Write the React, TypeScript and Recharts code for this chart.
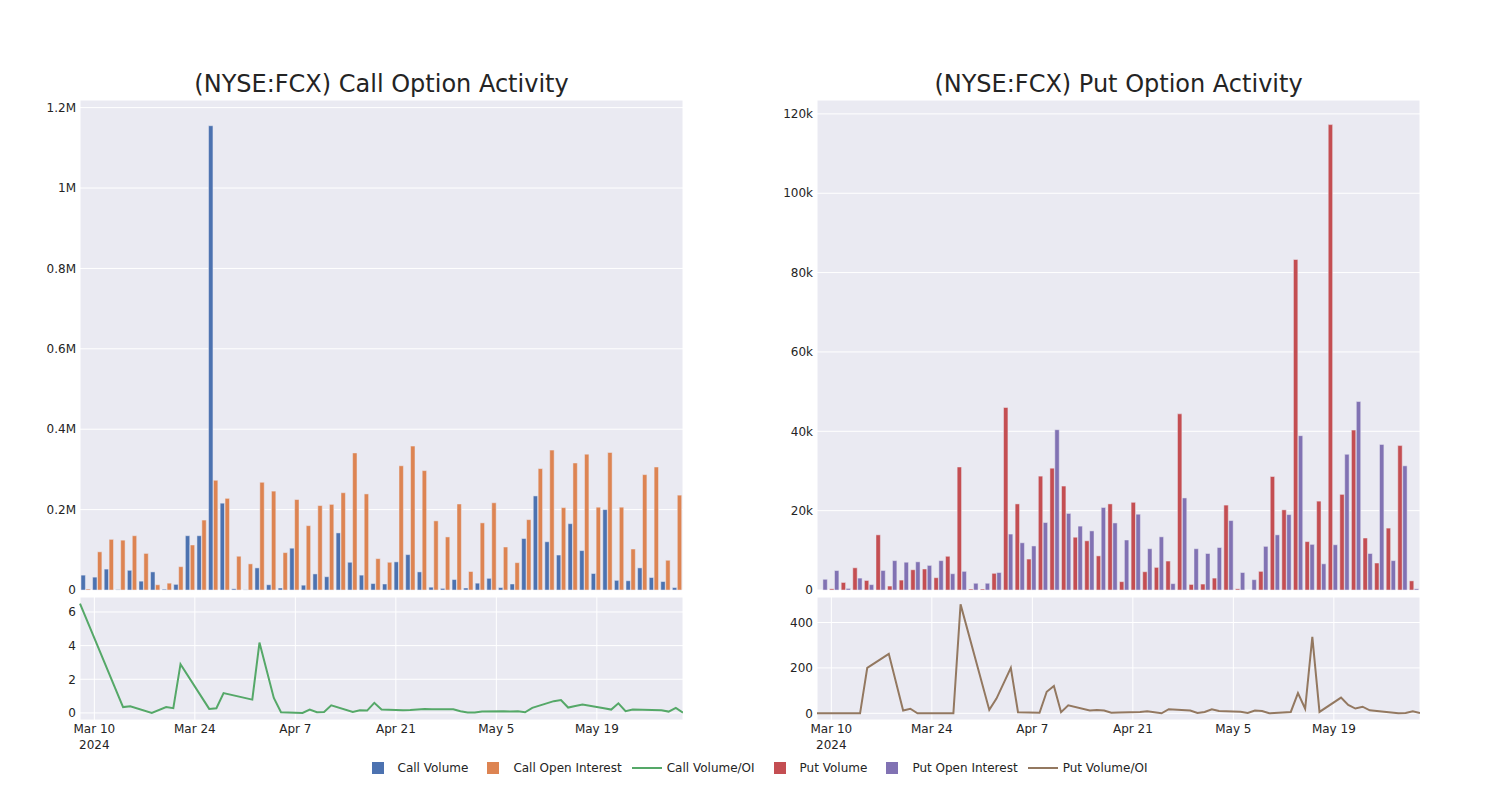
import React from 'react';
import { BarChart, Bar, LineChart, Line, XAxis, YAxis, CartesianGrid } from 'recharts';

// trading days in the data set (Apr 24 not reported)
const DATES = [
  '2024-03-08', '2024-03-14', '2024-03-15', '2024-03-18', '2024-03-20', '2024-03-21', '2024-03-22', '2024-03-26', '2024-03-27', '2024-03-28',
  '2024-04-01', '2024-04-02', '2024-04-04', '2024-04-05', '2024-04-08', '2024-04-09', '2024-04-10', '2024-04-11', '2024-04-12', '2024-04-15',
  '2024-04-16', '2024-04-17', '2024-04-18', '2024-04-19', '2024-04-22', '2024-04-23', '2024-04-25', '2024-04-26', '2024-04-29', '2024-04-30',
  '2024-05-01', '2024-05-02', '2024-05-03', '2024-05-06', '2024-05-07', '2024-05-08', '2024-05-09', '2024-05-10', '2024-05-13', '2024-05-14',
  '2024-05-15', '2024-05-16', '2024-05-17', '2024-05-20', '2024-05-21', '2024-05-22', '2024-05-23', '2024-05-24', '2024-05-28', '2024-05-29',
  '2024-05-30', '2024-05-31',
];

const CALL_VOLUME = [
  37000, 32000, 52000, 1000, 49000, 22000, 45000, 2000, 14000, 135000,
  135000, 1155000, 216000, 3000, 500, 55000, 13000, 5000, 104000, 12000,
  40000, 33000, 142000, 69000, 37000, 16000, 15000, 70000, 88000, 45000,
  7000, 4000, 26000, 5000, 17000, 29000, 6000, 15000, 128000, 234000,
  120000, 87000, 165000, 98000, 41000, 200000, 24000, 23000, 55000, 31000,
  21000, 6000,
];

const CALL_OI = [
  2500, 95000, 126000, 124000, 135000, 91000, 13000, 17000, 58000, 112000,
  174000, 273000, 228000, 84000, 65000, 268000, 246000, 93000, 225000, 160000,
  210000, 213000, 242000, 341000, 239000, 78000, 69000, 309000, 358000, 297000,
  172000, 132000, 214000, 46000, 167000, 217000, 107000, 68000, 175000, 302000,
  348000, 205000, 316000, 338000, 206000, 342000, 206000, 102000, 287000, 306000,
  74000, 236000,
];

const CALL_RATIO = [
  6.5, 0.35, 0.4, 0, 0.35, 0.28, 2.9, 0.24, 0.28, 1.18,
  0.79, 4.18, 0.89, 0.04, 0, 0.2, 0.04, 0.06, 0.45, 0.06,
  0.16, 0.14, 0.6, 0.2, 0.16, 0.18, 0.24, 0.22, 0.22, 0.1,
  0.02, 0.02, 0.08, 0.1, 0.08, 0.1, 0.04, 0.3, 0.7, 0.77,
  0.32, 0.41, 0.5, 0.28, 0.2, 0.57, 0.1, 0.2, 0.16, 0.08,
  0.3, 0.02,
];

const PUT_VOLUME = [
  0, 300, 1900, 5600, 2400, 13900, 1000, 2500, 5100, 5300,
  3100, 8500, 31000, 250, 250, 4200, 46000, 21700, 7800, 28700,
  30700, 26200, 13300, 12400, 8600, 21700, 2100, 22100, 4600, 5700,
  7300, 44400, 1400, 1500, 3000, 21400, 300, 0, 4700, 28600,
  20200, 83300, 12200, 22400, 117300, 24100, 40300, 13100, 6800, 15600,
  36400, 2300,
];

const PUT_OI = [
  2700, 4900, 400, 3000, 1350, 4900, 7400, 7000, 7100, 6200,
  7400, 4100, 4700, 1700, 1700, 4400, 14100, 11900, 11100, 17000,
  40400, 19300, 16100, 14900, 20800, 16900, 12600, 19100, 10400, 13400,
  1600, 23200, 10400, 9200, 10700, 17500, 4400, 2600, 11000, 13900,
  19000, 38900, 11500, 6600, 11400, 34200, 47500, 9200, 36700, 7400,
  31300, 300,
];

const PUT_RATIO = [
  0, 0, 200, 262, 12, 20, 0, 0, 0, 480,
  15, 65, 200, 5, 2, 95, 120, 5, 35, 12,
  15, 12, 3, 4, 6, 9, 0, 18, 12, 1.5,
  6, 18, 10, 7, 1.5, 12, 10, 0, 6, 89,
  20, 337, 6, 69, 37, 21, 29, 13, 0, 1.5,
  9, 1.5,
];

const DATE_TICKS = ['2024-03-10', '2024-03-24', '2024-04-07', '2024-04-21', '2024-05-05', '2024-05-19'];
const CALL_TICKS = [0, 200000, 400000, 600000, 800000, 1000000, 1200000];
const PUT_TICKS = [0, 20000, 40000, 60000, 80000, 100000, 120000];
const CALL_RATIO_TICKS = [0, 2, 4, 6];
const PUT_RATIO_TICKS = [0, 200, 400];
const MONTHS = ['Jan', 'Feb', 'Mar', 'Apr', 'May', 'Jun', 'Jul', 'Aug', 'Sep', 'Oct', 'Nov', 'Dec'];

const FONT = '"DejaVu Sans", sans-serif';
const TEXT = '#242424';
const BG = '#EAEAF2';

const PLOT_W = 603;
const AXIS_W = 60;
const BAR_TOP = 100;
const BAR_H = 490;
const LINE_TOP = 597;
const LINE_H = 123;

const rows = DATES.map((date, i) => ({
  date,
  t: Date.parse(date),
  callVolume: CALL_VOLUME[i],
  callOI: CALL_OI[i],
  callRatio: CALL_RATIO[i],
  putVolume: PUT_VOLUME[i],
  putOI: PUT_OI[i],
  putRatio: PUT_RATIO[i],
}));

const gridCats = DATES.filter((_, i) => i % 10 === 0);
const timeTicks = DATE_TICKS.map((d) => Date.parse(d));
const timeDomain = [Date.parse('2024-03-08'), Date.parse('2024-05-31')];

const fmtM = (v: number) => (v === 0 ? '0' : `${v / 1e6}M`);
const fmtK = (v: number) => (v === 0 ? '0' : `${v / 1000}k`);

function DateTick(props: any) {
  const { x, y, payload, index } = props;
  const d = new Date(payload.value);
  const label = `${MONTHS[d.getUTCMonth()]} ${d.getUTCDate()}`;
  return (
    <text x={x} y={y} textAnchor="middle" fontSize={12} fill={TEXT} fontFamily={FONT}>
      <tspan x={x} dy={11}>{label}</tspan>
      {index === 0 && <tspan x={x} dy={16}>2024</tspan>}
    </text>
  );
}

const tickStyle = { fontSize: 12, fill: TEXT, fontFamily: FONT };

function Panel(props: {
  left: number;
  title: string;
  volKey: string;
  oiKey: string;
  ratioKey: string;
  volColor: string;
  oiColor: string;
  ratioColor: string;
  barTicks: number[];
  barMax: number;
  fmt: (v: number) => string;
  ratioTicks: number[];
  ratioDomain: number[];
}) {
  const p = props;
  return (
    <>
      <div
        style={{
          position: 'absolute', left: p.left, top: 70, width: PLOT_W, textAlign: 'center',
          fontFamily: FONT, fontSize: 24, lineHeight: '28px', color: TEXT,
        }}
      >
        {p.title}
      </div>
      <div style={{ position: 'absolute', left: p.left - AXIS_W, top: BAR_TOP }}>
        <BarChart
          width={AXIS_W + PLOT_W}
          height={BAR_H + 10}
          data={rows}
          margin={{ top: 0, right: 0, bottom: 10, left: 0 }}
          barSize={4.4}
          barGap={0.5}
        >
          <CartesianGrid stroke="#ffffff" strokeWidth={1} fill={BG} />
          <XAxis dataKey="date" ticks={gridCats} interval={0} tick={false} axisLine={false} tickLine={false} height={0} />
          <YAxis
            width={AXIS_W}
            type="number"
            domain={[0, p.barMax]}
            ticks={p.barTicks}
            tickFormatter={p.fmt}
            axisLine={false}
            tickLine={false}
            tickSize={0}
            tickMargin={4}
            tick={tickStyle}
          />
          <Bar dataKey={p.volKey} fill={p.volColor} stroke={BG} strokeWidth={0.5} isAnimationActive={false} />
          <Bar dataKey={p.oiKey} fill={p.oiColor} stroke={BG} strokeWidth={0.5} isAnimationActive={false} />
        </BarChart>
      </div>
      <div style={{ position: 'absolute', left: p.left - AXIS_W, top: LINE_TOP }}>
        <LineChart
          width={AXIS_W + PLOT_W}
          height={LINE_H + 40}
          data={rows}
          margin={{ top: 0, right: 0, bottom: 0, left: 0 }}
        >
          <CartesianGrid stroke="#ffffff" strokeWidth={1} fill={BG} />
          <XAxis
            dataKey="t"
            type="number"
            domain={timeDomain}
            ticks={timeTicks}
            interval={0}
            tick={<DateTick />}
            axisLine={false}
            tickLine={false}
            tickSize={0}
            height={40}
          />
          <YAxis
            width={AXIS_W}
            type="number"
            domain={p.ratioDomain}
            ticks={p.ratioTicks}
            allowDataOverflow
            axisLine={false}
            tickLine={false}
            tickSize={0}
            tickMargin={4}
            tick={tickStyle}
          />
          <Line
            dataKey={p.ratioKey}
            stroke={p.ratioColor}
            strokeWidth={2}
            dot={false}
            type="linear"
            isAnimationActive={false}
          />
        </LineChart>
      </div>
    </>
  );
}

const LEGEND = [
  { label: 'Call Volume', color: '#4C72B0', kind: 'bar' },
  { label: 'Call Open Interest', color: '#DD8452', kind: 'bar' },
  { label: 'Call Volume/OI', color: '#55A868', kind: 'line' },
  { label: 'Put Volume', color: '#C44E52', kind: 'bar' },
  { label: 'Put Open Interest', color: '#8172B3', kind: 'bar' },
  { label: 'Put Volume/OI', color: '#937860', kind: 'line' },
];

function Legend() {
  return (
    <div
      style={{
        position: 'absolute', left: 0, top: 760, width: 1500, display: 'flex', justifyContent: 'center',
        fontFamily: FONT, fontSize: 12, color: TEXT, paddingLeft: 10, boxSizing: 'border-box',
      }}
    >
      {LEGEND.map((it) => (
        <div key={it.label} style={{ display: 'flex', alignItems: 'center', height: 16, marginRight: 5 }}>
          <div style={{ width: 40, height: 16, position: 'relative' }}>
            {it.kind === 'bar' ? (
              <div style={{ position: 'absolute', left: 14, top: 2, width: 12, height: 12, background: it.color }} />
            ) : (
              <div style={{ position: 'absolute', left: 5, top: 7, width: 30, height: 2, background: it.color }} />
            )}
          </div>
          <span>{it.label}</span>
        </div>
      ))}
    </div>
  );
}

export default function App() {
  return (
    <div style={{ position: 'absolute', left: 0, top: 0, width: 1500, height: 800, background: '#ffffff' }}>
      <Panel
        left={80}
        title="(NYSE:FCX) Call Option Activity"
        volKey="callVolume"
        oiKey="callOI"
        ratioKey="callRatio"
        volColor="#4C72B0"
        oiColor="#DD8452"
        ratioColor="#55A868"
        barTicks={CALL_TICKS}
        barMax={1219000}
        fmt={fmtM}
        ratioTicks={CALL_RATIO_TICKS}
        ratioDomain={[-0.42, 6.89]}
      />
      <Panel
        left={817}
        title="(NYSE:FCX) Put Option Activity"
        volKey="putVolume"
        oiKey="putOI"
        ratioKey="putRatio"
        volColor="#C44E52"
        oiColor="#8172B3"
        ratioColor="#937860"
        barTicks={PUT_TICKS}
        barMax={123500}
        fmt={fmtK}
        ratioTicks={PUT_RATIO_TICKS}
        ratioDomain={[-29.5, 512.5]}
      />
      <Legend />
    </div>
  );
}
